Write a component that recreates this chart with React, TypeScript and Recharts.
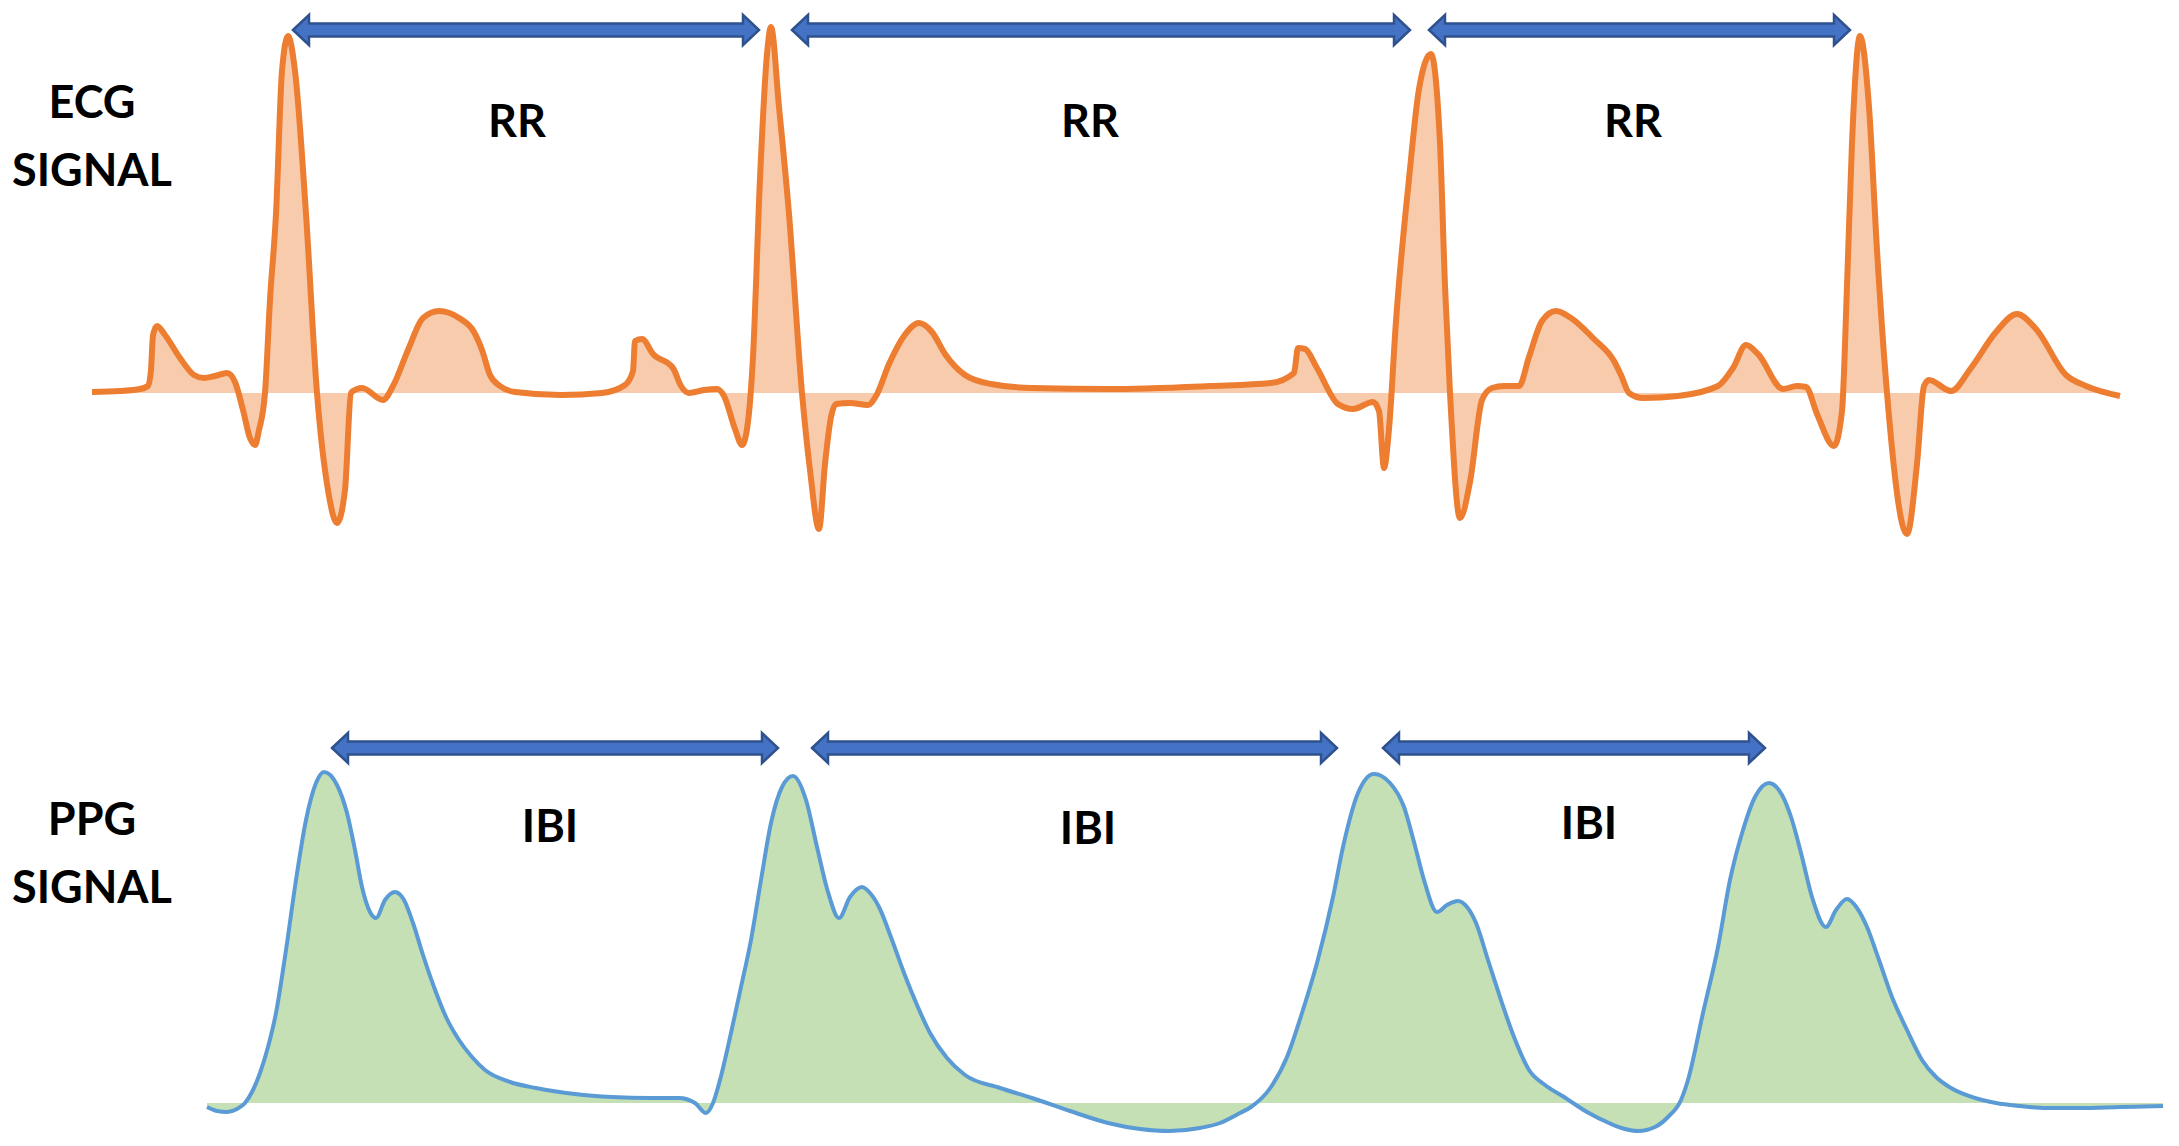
import React from 'react';
import { AreaChart, Area, XAxis, YAxis, ReferenceLine, ReferenceDot } from 'recharts';

// ECG trace: time units and amplitude (baseline = 0)
const ecgTime = [92,120,140,148,151,153,157,165,180,194,204,215,227,235,243,250,255,259,265,270,276,282,288,295,306,317,328,337,345,351,357,362,383,393,408,423,439,459,474,482,490,500,515,561,602,625,633,635,642,653,673,681,689,704,717,724,735,742,747,753,760,767,771,779,789,802,810,819,825,831,836,850,868,876,889,904,919,932,945,965,991,1032,1108,1210,1271,1294,1298,1305,1317,1338,1353,1373,1379,1384,1389,1396,1409,1419,1431,1440,1445,1450,1460,1470,1482,1492,1504,1519,1529,1542,1556,1571,1594,1614,1621,1629,1643,1678,1718,1733,1746,1758,1783,1797,1806,1817,1834,1842,1847,1852,1860,1869,1877,1887,1907,1917,1924,1929,1951,1971,1996,2017,2036,2066,2086,2120];
const ecgAmp = [1,2,4,7,23,58,67,58,35,18,15,17,20,11,-17,-45,-52,-37,0,93,179,322,357,322,179,0,-97,-130,-97,0,4,5,-7,7,43,75,82,75,61,43,18,7,1,-2,0,8,22,52,54,39,25,7,0,3,4,-3,-36,-52,-36,36,214,339,366,286,179,0,-77,-136,-71,-24,-11,-10,-12,-3,29,57,70,61,39,18,9,5,4,7,10,20,45,44,25,-11,-16,-9,-18,-75,-36,72,214,304,339,250,107,0,-125,-89,-7,5,7,7,36,72,82,75,54,32,18,0,-5,-3,7,25,48,39,4,7,6,-21,-53,-18,107,250,357,286,143,0,-141,-71,7,13,2,25,61,79,64,18,7,-3];

// PPG trace: time units and amplitude (baseline = 0)
const ppgTime = [207,217,227,237,245,253,260,268,276,286,296,306,316,324,337,347,355,362,370,376,385,395,404,413,423,434,446,459,472,485,510,536,575,612,650,679,695,706,713,720,731,741,751,761,771,782,793,806,817,828,839,850,862,870,879,892,904,917,930,947,965,1000,1032,1070,1108,1140,1169,1200,1220,1240,1251,1271,1287,1302,1317,1333,1343,1358,1374,1390,1404,1414,1424,1437,1447,1458,1467,1476,1488,1500,1514,1529,1545,1564,1587,1609,1625,1638,1655,1668,1681,1688,1703,1718,1730,1743,1755,1769,1782,1792,1802,1812,1826,1836,1847,1857,1867,1879,1892,1907,1922,1936,1951,1975,1996,2020,2046,2080,2120,2163];
const ppgAmp = [-4,-8,-9,-6,0,13,30,56,90,153,223,283,320,331,318,290,253,216,191,185,203,211,203,180,148,116,86,63,46,33,21,15,9,6,5,5,0,-10,0,23,70,116,163,223,280,316,327,303,256,211,185,206,216,210,196,163,130,98,70,45,28,15,5,-8,-20,-26,-28,-25,-20,-10,-4,16,46,90,140,206,256,310,329,320,296,261,223,191,198,202,196,180,143,106,66,33,18,6,-9,-20,-26,-28,-24,-14,3,23,90,156,223,273,306,320,308,283,246,206,176,193,204,195,176,143,106,73,43,26,15,5,0,-3,-5,-5,-4,-3];

// Interval arrows (start, end) and their level
const rrStart = [293, 792, 1429];
const rrEnd = [759, 1410, 1850];
const rrLevel = 363;
const ibiStart = [332, 812, 1383];
const ibiEnd = [778, 1337, 1765];
const ibiLevel = 355;

// Interval labels
const rrLabelX = [517, 1090, 1633];
const rrLabelLevel = [256, 256, 256];
const ibiLabelX = [550, 1088, 1589];
const ibiLabelLevel = [261, 259, 264];

const ecgData = ecgTime.map((t, i) => ({ t, v: ecgAmp[i] }));
const ppgData = ppgTime.map((t, i) => ({ t, v: ppgAmp[i] }));

const FONT = "Lato, 'Open Sans', sans-serif";

const DoubleArrow = (props: any) => {
  const { x1, y1, x2 } = props;
  const l = Math.min(x1, x2);
  const r = Math.max(x1, x2);
  const y = y1;
  const sh = 6.5, hh = 15, hl = 16;
  const d = `M${l},${y} L${l + hl},${y - hh} L${l + hl},${y - sh} L${r - hl},${y - sh} L${r - hl},${y - hh} L${r},${y} L${r - hl},${y + hh} L${r - hl},${y + sh} L${l + hl},${y + sh} L${l + hl},${y + hh} Z`;
  return <path d={d} fill="#4472C4" stroke="#2F528F" strokeWidth={2.5} />;
};

const makeText = (lines: string[]) => (props: any) => {
  const { cx, cy } = props;
  return (
    <text x={cx} y={cy} textAnchor="middle" fontFamily={FONT} fontWeight={700} fontSize={45} fill="#000">
      {lines.map((ln, i) => (
        <tspan key={i} x={cx} dy={i === 0 ? 0 : 68}>{ln}</tspan>
      ))}
    </text>
  );
};

const W = 2179;

export default function App() {
  return (
    <div style={{ position: 'fixed', left: 0, top: 0, width: W, height: 1146, background: '#fff' }}>
      <div style={{ position: 'absolute', left: 0, top: 0 }}>
        <AreaChart width={W} height={560} data={ecgData} margin={{ top: 0, right: 0, bottom: 0, left: 0 }}>
          <XAxis type="number" dataKey="t" domain={[0, W]} allowDataOverflow hide />
          <YAxis type="number" domain={[-167, 393]} allowDataOverflow hide />
          <Area type="monotone" dataKey="v" baseValue={0} stroke="#ED7D31" strokeWidth={6} strokeLinejoin="round" fill="#F8CBAD" fillOpacity={1} dot={false} activeDot={false} isAnimationActive={false} />
          {rrStart.map((s, i) => (
            <ReferenceLine key={'rr' + i} segment={[{ x: s, y: rrLevel }, { x: rrEnd[i], y: rrLevel }]} shape={DoubleArrow} />
          ))}
          {rrLabelX.map((x, i) => (
            <ReferenceDot key={'rrl' + i} x={x} y={rrLabelLevel[i]} r={0} shape={makeText(['RR'])} />
          ))}
          <ReferenceDot x={92} y={275} r={0} shape={makeText(['ECG', 'SIGNAL'])} />
        </AreaChart>
      </div>
      <div style={{ position: 'absolute', left: 0, top: 560 }}>
        <AreaChart width={W} height={586} data={ppgData} margin={{ top: 0, right: 0, bottom: 0, left: 0 }}>
          <XAxis type="number" dataKey="t" domain={[0, W]} allowDataOverflow hide />
          <YAxis type="number" domain={[-43, 543]} allowDataOverflow hide />
          <Area type="monotone" dataKey="v" baseValue={0} stroke="#5B9BD5" strokeWidth={4} strokeLinejoin="round" fill="#C5E0B4" fillOpacity={1} dot={false} activeDot={false} isAnimationActive={false} />
          {ibiStart.map((s, i) => (
            <ReferenceLine key={'ibi' + i} segment={[{ x: s, y: ibiLevel }, { x: ibiEnd[i], y: ibiLevel }]} shape={DoubleArrow} />
          ))}
          {ibiLabelX.map((x, i) => (
            <ReferenceDot key={'ibil' + i} x={x} y={ibiLabelLevel[i]} r={0} shape={makeText(['IBI'])} />
          ))}
          <ReferenceDot x={92} y={268} r={0} shape={makeText(['PPG', 'SIGNAL'])} />
        </AreaChart>
      </div>
    </div>
  );
}
